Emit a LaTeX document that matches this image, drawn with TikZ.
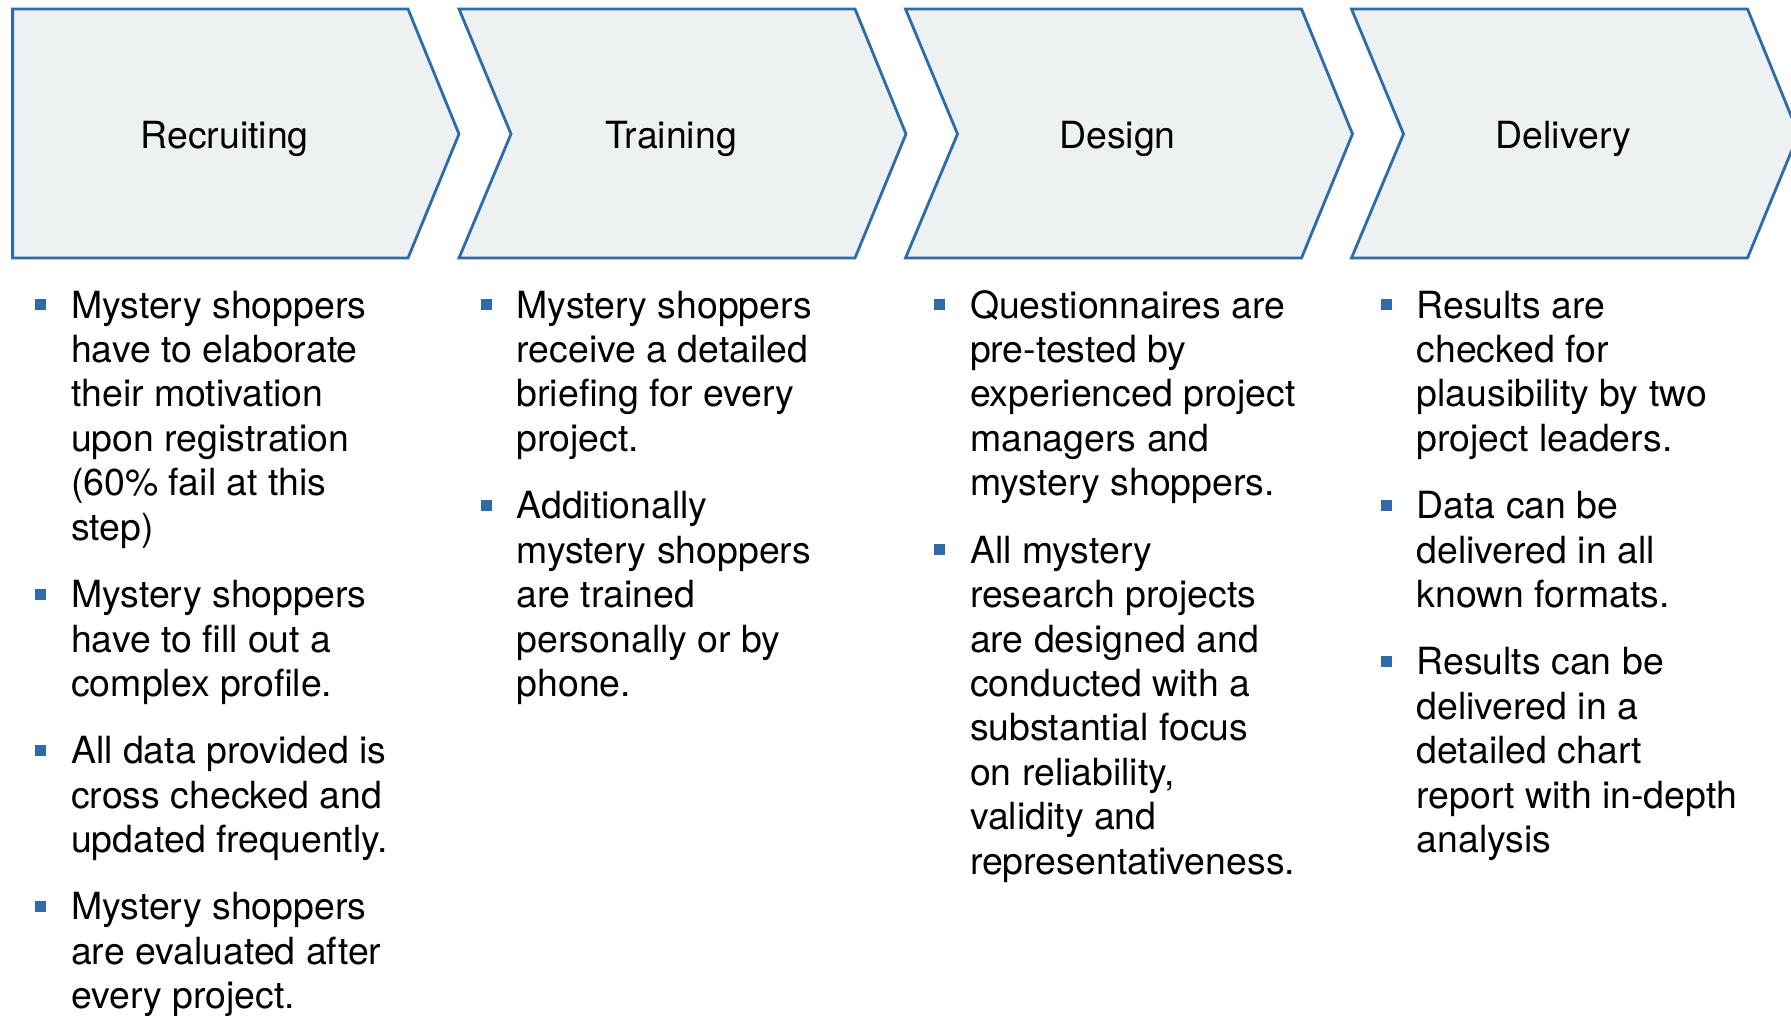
\documentclass[tikz,border=0pt]{standalone}
\usepackage{fontspec}
\setmainfont{TeX Gyre Heros}
\usetikzlibrary{positioning}
\definecolor{chevblue}{RGB}{47,107,168}
\definecolor{chevfill}{RGB}{237,241,242}
\tikzset{
  chev/.style={draw=chevblue, fill=chevfill, line width=1.6pt, line join=miter},
  title/.style={font=\fontsize{21.3}{25.3}\selectfont, anchor=base},
  txt/.style={font=\fontsize{21.3}{25.3}\selectfont, align=left, anchor=north west, inner sep=0pt},
  sq/.style={fill=chevblue, minimum size=0.22cm, inner sep=0pt}
}

\begin{document}
\begin{tikzpicture}[x=0.02cm, y=-0.02cm]
\useasboundingbox (0,0) rectangle (1791,1016);
% chevrons
\draw[chev] (12.6,9) -- (408,9) -- (459,134) -- (408,258) -- (12.6,258) -- cycle;
\draw[chev] (459,9) -- (855,9) -- (906,134) -- (855,258) -- (459,258) -- (511,134) -- cycle;
\draw[chev] (905.5,9) -- (1301.5,9) -- (1352.5,134) -- (1301.5,258) -- (905.5,258) -- (957.5,134) -- cycle;
\draw[chev] (1351.5,9) -- (1747.5,9) -- (1798.5,134) -- (1747.5,258) -- (1351.5,258) -- (1403.5,134) -- cycle;
\node[title] (recruiting) at (224.6,148.5) {Recruiting};
\node[title] (training) at (671,148.5) {Training};
\node[title] (design) at (1117.5,148.5) {Design};
\node[title] (delivery) at (1563.5,148.5) {Delivery};
% recruiting
\node[txt] (r1) at (70.8,286.6) {\strut Mystery shoppers\\have to elaborate\\their motivation\\upon registration\\(60\% fail at this\\step)};
\node[txt] (r2) at (70.8,576.2) {\strut Mystery shoppers\\have to fill out a\\complex profile.};
\node[txt] (r3) at (70.8,732.3) {\strut All data provided is\\cross checked and\\updated frequently.};
\node[txt] (r4) at (70.8,888.4) {\strut Mystery shoppers\\are evaluated after\\every project.};
% training
\node[txt] (t1) at (516.3,286.6) {\strut Mystery shoppers\\receive a detailed\\briefing for every\\project.};
\node[txt] (t2) at (516.3,487.2) {\strut Additionally\\mystery shoppers\\are trained\\personally or by\\phone.};
% design
\node[txt] (d1) at (969.7,286.6) {\strut Questionnaires are\\pre-tested by\\experienced project\\managers and\\mystery shoppers.};
\node[txt] (d2) at (969.7,531.7) {\strut All mystery\\research projects\\are designed and\\conducted with a\\substantial focus\\on reliability,\\validity and\\representativeness.};
% delivery
\node[txt] (v1) at (1416.3,286.6) {\strut Results are\\checked for\\plausibility by two\\project leaders.};
\node[txt] (v2) at (1416.3,487.2) {\strut Data can be\\delivered in all\\known formats.};
\node[txt] (v3) at (1416.3,643.3) {\strut Results can be\\delivered in a\\detailed chart\\report with in-depth\\analysis};
% bullets
\foreach \n in {r1,r2,r3,r4,t1,t2,d1,d2,v1,v2,v3}
  \node[sq] (b-\n) at ([xshift=-0.6cm,yshift=-0.364cm]\n.north west) {};
\end{tikzpicture}
\end{document}
